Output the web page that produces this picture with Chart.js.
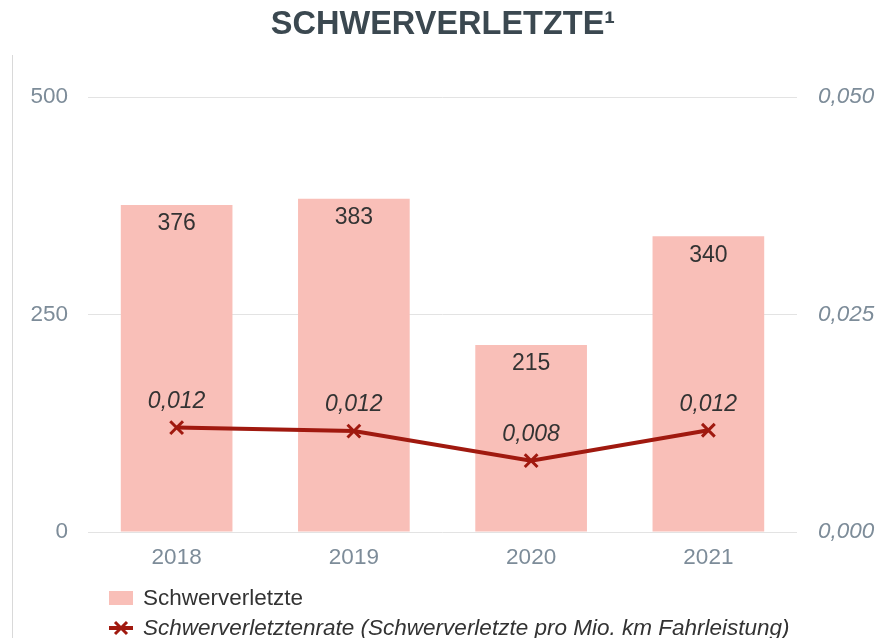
<!DOCTYPE html>
<html>
<head>
<meta charset="utf-8">
<script src="https://cdn.jsdelivr.net/npm/chart.js@4"></script>
<style>
  html, body { margin: 0; padding: 0; background: #fff; }
  #wrap { position: relative; width: 886px; height: 638px; font-family: "Liberation Sans", Arial, sans-serif; }
  #edge { position: absolute; left: 12px; top: 55px; width: 1px; height: 583px; background: #d9d9d9; }
  #legend { position: absolute; left: 109px; top: 583px; font-size: 22.5px; color: #333; }
  .item { display: flex; align-items: center; height: 30px; }
  .box { width: 24px; height: 14px; background: #f9bfb8; margin-right: 10px; }
  .lineicon { width: 24px; height: 20px; margin-right: 10px; }
</style>
</head>
<body>
<div id="wrap">
  <canvas id="chart" width="886" height="638"></canvas>
  <div id="edge"></div>
  <div id="legend">
    <div class="item"><span class="box"></span>Schwerverletzte</div>
    <div class="item"><svg class="lineicon" viewBox="0 0 24 20"><line x1="0" y1="10" x2="24" y2="10" stroke="#a0190f" stroke-width="4"/><line x1="6" y1="4" x2="18" y2="16" stroke="#a0190f" stroke-width="3"/><line x1="18" y1="4" x2="6" y2="16" stroke="#a0190f" stroke-width="3"/></svg><i>Schwerverletztenrate (Schwerverletzte pro Mio. km Fahrleistung)</i></div>
  </div>
</div>
<script>
const years = ["2018", "2019", "2020", "2021"];
const verletzte = [376, 383, 215, 340];
const rate = [0.0120, 0.0116, 0.0082, 0.0117];
const leftTicks = [0, 250, 500];
const rightTicks = [0, 0.025, 0.05];

const barColor = "#f9bfb8";
const lineColor = "#a0190f";
const tickColor = "#7d8c99";
const fam = "'Liberation Sans', Arial, sans-serif";

function komma(v, d) {
  return v.toFixed(d).replace(".", ",");
}

const valueLabels = {
  id: "valueLabels",
  afterDatasetsDraw(chart) {
    const ctx = chart.ctx;
    ctx.save();
    ctx.textAlign = "center";
    ctx.textBaseline = "middle";
    ctx.fillStyle = "#333";
    chart.getDatasetMeta(1).data.forEach((bar, i) => {
      ctx.font = "23px " + fam;
      ctx.fillText(String(verletzte[i]), bar.x, bar.y + 19);
    });
    chart.getDatasetMeta(0).data.forEach((pt, i) => {
      ctx.font = "italic 23px " + fam;
      ctx.fillText(komma(rate[i], 3), pt.x, pt.y - 26);
    });
    ctx.restore();
  }
};

new Chart(document.getElementById("chart"), {
  type: "bar",
  data: {
    labels: years,
    datasets: [
      {
        type: "line",
        label: "Schwerverletztenrate (Schwerverletzte pro Mio. km Fahrleistung)",
        data: rate,
        yAxisID: "y2",
        borderColor: lineColor,
        borderWidth: 4,
        pointStyle: "crossRot",
        pointRadius: 9,
        pointBorderWidth: 3,
        pointBorderColor: lineColor,
        pointBackgroundColor: lineColor,
        tension: 0,
        order: 0
      },
      {
        label: "Schwerverletzte",
        data: verletzte,
        yAxisID: "y",
        backgroundColor: barColor,
        categoryPercentage: 1,
        barPercentage: 0.63,
        order: 1
      }
    ]
  },
  options: {
    responsive: false,
    animation: false,
    layout: { padding: { top: 0, bottom: 55, left: 0, right: 0 } },
    plugins: {
      legend: { display: false },
      tooltip: { enabled: false },
      title: {
        display: true,
        text: "SCHWERVERLETZTE¹",
        color: "#3b4850",
        font: { family: fam, size: 32.5, weight: "bold" },
        padding: { top: 6, bottom: 52 }
      }
    },
    scales: {
      x: {
        grid: { display: false, drawTicks: false },
        border: { display: false },
        ticks: { color: tickColor, padding: 12, font: { family: fam, size: 22.5 } }
      },
      y: {
        position: "left",
        min: 0,
        max: 500,
        afterBuildTicks: s => { s.ticks = leftTicks.map(v => ({ value: v })); },
        afterFit: s => { s.width = 88; },
        grid: { color: "#e3e3e3", lineWidth: 1, drawTicks: false },
        border: { display: false },
        ticks: { color: tickColor, padding: 20, font: { family: fam, size: 22.5 } }
      },
      y2: {
        position: "right",
        min: 0,
        max: 0.05,
        afterBuildTicks: s => { s.ticks = rightTicks.map(v => ({ value: v })); },
        afterFit: s => { s.width = 89; },
        grid: { display: false, drawTicks: false },
        border: { display: false },
        ticks: {
          color: tickColor,
          padding: 21,
          font: { family: fam, size: 22.5, style: "italic" },
          callback: v => komma(v, 3)
        }
      }
    }
  },
  plugins: [valueLabels]
});
</script>
</body>
</html>
